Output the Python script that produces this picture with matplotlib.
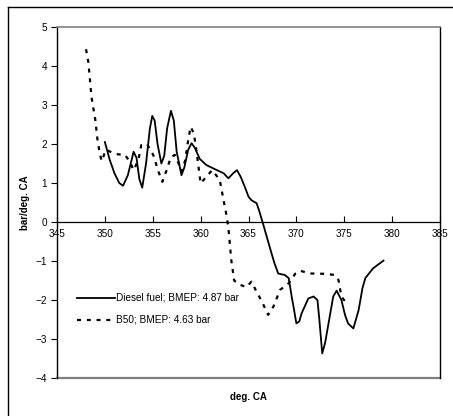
import matplotlib
matplotlib.use("Agg")
import matplotlib.pyplot as plt
from matplotlib.lines import Line2D

plt.rcParams['font.family'] = ['Liberation Sans', 'DejaVu Sans']

# diesel fuel, heat release rate (bar/deg. CA)
diesel_ca = [350.0, 350.5, 351.0, 351.5, 351.9, 352.4, 353.0, 353.3, 353.6, 353.9,
             354.3, 354.7, 354.95, 355.2, 355.5, 355.9, 356.2, 356.5, 356.9, 357.2,
             357.5, 358.0, 358.3, 358.7, 359.05, 359.4, 359.9, 360.6, 361.7, 362.4,
             362.9, 363.4, 363.8, 364.2, 364.6, 365.0, 365.3, 365.85, 366.1, 366.5,
             367.2, 367.7, 368.1, 368.8, 369.2, 369.5, 369.7, 370.0, 370.3, 370.55,
             371.25, 371.8, 372.2, 372.4, 372.7, 373.0, 373.3, 373.85, 374.2, 374.7,
             375.1, 375.4, 375.95, 376.5, 376.9, 377.2, 378.0, 379.1]
diesel_hrr = [2.05, 1.6, 1.25, 1.0, 0.93, 1.2, 1.8, 1.65, 1.1, 0.88,
              1.5, 2.4, 2.72, 2.6, 2.0, 1.5, 1.7, 2.4, 2.85, 2.6,
              1.8, 1.2, 1.4, 1.85, 2.02, 1.9, 1.62, 1.46, 1.33, 1.25,
              1.12, 1.25, 1.33, 1.15, 0.91, 0.65, 0.56, 0.48, 0.3, -0.03,
              -0.63, -1.05, -1.32, -1.36, -1.44, -1.9, -2.17, -2.6, -2.55, -2.34,
              -1.96, -1.91, -2.0, -2.5, -3.37, -3.1, -2.68, -1.91, -1.76, -2.0,
              -2.4, -2.6, -2.73, -2.26, -1.7, -1.44, -1.19, -0.99]

# B50 blend
b50_ca = [348.03, 348.27, 348.6, 349.0, 349.25, 349.5, 349.67, 350.1, 351.2, 352.1,
          352.6, 353.0, 353.5, 353.8, 354.4, 355.05, 355.6, 356.0, 356.45, 356.9,
          357.3, 357.7, 358.0, 358.4, 358.7, 358.96, 359.3, 359.6, 360.0, 360.6,
          361.2, 362.0, 362.4, 362.7, 362.9, 363.0, 363.2, 363.5, 364.0, 364.8,
          365.3, 365.85, 366.4, 367.05, 367.6, 368.3, 369.2, 369.9, 370.4, 371.4,
          373.2, 374.0, 374.4, 374.7, 375.1]
b50_hrr = [4.43, 4.11, 3.21, 2.62, 2.06, 1.72, 1.56, 1.85, 1.74, 1.72,
           1.55, 1.33, 1.59, 1.97, 2.0, 1.72, 1.29, 1.03, 1.33, 1.67,
           1.72, 1.5, 1.29, 1.59, 2.1, 2.44, 2.27, 1.76, 0.99, 1.16,
           1.33, 1.08, 0.55, 0.18, -0.15, -0.42, -0.97, -1.5, -1.6, -1.67,
           -1.53, -1.79, -2.04, -2.38, -2.17, -1.74, -1.57, -1.32, -1.25, -1.32,
           -1.33, -1.36, -1.49, -1.91, -2.04]

labels = ["Diesel fuel; BMEP: 4.87 bar", "B50; BMEP: 4.63 bar"]

W, H = 453, 416
fig = plt.figure(figsize=(W / 100, H / 100), dpi=100)
ax = fig.add_axes([57 / W, 1 - 378 / H, (440 - 57) / W, (378 - 27) / H])

ax.plot(diesel_ca, diesel_hrr, color='black', lw=1.3, label=labels[0])
ax.plot(b50_ca, b50_hrr, color='black', lw=1.6, linestyle=(0, (1.8, 2.6)), label=labels[1])

ax.set_xlim(345, 385)
ax.set_ylim(-4, 5)
ax.set_xticks(range(345, 386, 5))
ax.set_yticks(range(-4, 6))

ax.spines['bottom'].set_position(('data', 0))
ax.spines['bottom'].set_linewidth(0.9)
ax.spines['left'].set_linewidth(1.0)
ax.spines['top'].set_color('#808080')
ax.spines['top'].set_linewidth(1.2)
ax.spines['right'].set_linewidth(1.0)
ax.axhline(-4, color='#808080', lw=1.6, clip_on=False)

ax.tick_params(axis='x', direction='in', length=4, width=0.8, pad=5, labelsize=7.2)
ax.tick_params(axis='y', direction='out', length=4, width=0.8, pad=3, labelsize=7.2)

fig.text(248 / W, 1 - 397 / H, "deg. CA", fontsize=7, fontweight='bold', ha='center', va='center')
fig.text(25 / W, 1 - 203 / H, "bar/deg. CA", fontsize=7, fontweight='bold', rotation=90,
         ha='center', va='center')

ax.legend(loc='upper left', bbox_to_anchor=(77 / W, 1 - 293 / H), bbox_transform=fig.transFigure,
          frameon=False, fontsize=7.2, handlelength=3.8, handletextpad=0.1, labelspacing=1.2,
          borderpad=0, borderaxespad=0)

# outer chart border
fig.add_artist(Line2D([8 / W, 8 / W], [0, 1 - 7 / H], color='black', lw=1.0, transform=fig.transFigure))
fig.add_artist(Line2D([8 / W, 1], [1 - 7 / H, 1 - 7 / H], color='black', lw=1.0, transform=fig.transFigure))

fig.savefig("out.png", dpi=100)
